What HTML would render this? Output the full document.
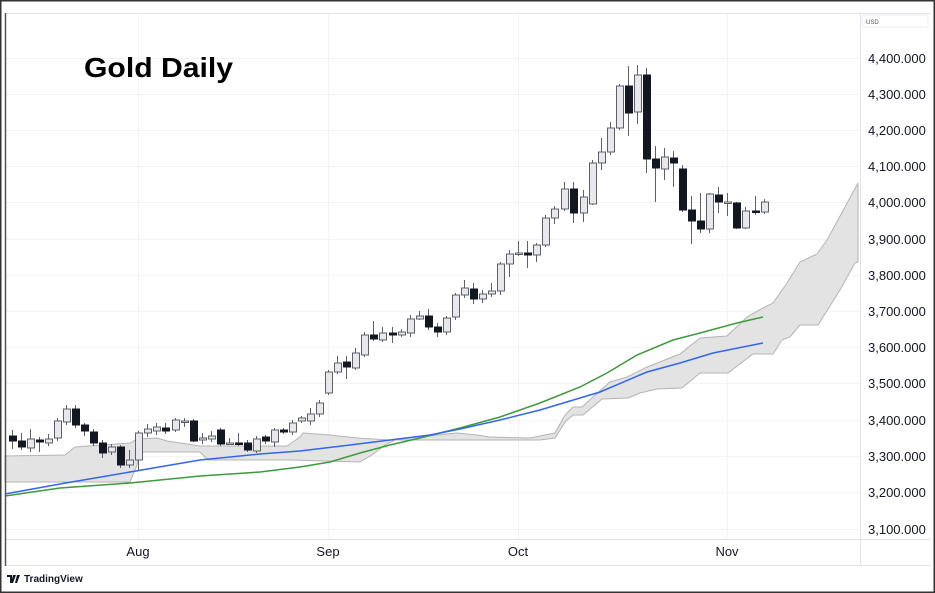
<!DOCTYPE html>
<html><head><meta charset="utf-8"><style>
html,body{margin:0;padding:0;background:#fff;}
svg{display:block;font-family:"Liberation Sans",sans-serif;}
</style></head><body>
<svg id="s" width="935" height="593" viewBox="0 0 935 593" xmlns="http://www.w3.org/2000/svg">
<rect x="0" y="0" width="935" height="593" fill="#fff"/>
<g id="grid" stroke="#f2f3f6" stroke-width="1">
<line x1="6" y1="58.5" x2="860" y2="58.5"/><line x1="6" y1="94.5" x2="860" y2="94.5"/><line x1="6" y1="130.5" x2="860" y2="130.5"/><line x1="6" y1="166.5" x2="860" y2="166.5"/><line x1="6" y1="202.5" x2="860" y2="202.5"/><line x1="6" y1="239.5" x2="860" y2="239.5"/><line x1="6" y1="275.5" x2="860" y2="275.5"/><line x1="6" y1="311.5" x2="860" y2="311.5"/><line x1="6" y1="347.5" x2="860" y2="347.5"/><line x1="6" y1="383.5" x2="860" y2="383.5"/><line x1="6" y1="420.5" x2="860" y2="420.5"/><line x1="6" y1="456.5" x2="860" y2="456.5"/><line x1="6" y1="492.5" x2="860" y2="492.5"/><line x1="6" y1="529.5" x2="860" y2="529.5"/>
<line x1="138.5" y1="14" x2="138.5" y2="538"/><line x1="328.5" y1="14" x2="328.5" y2="538"/><line x1="518.5" y1="14" x2="518.5" y2="538"/><line x1="727.5" y1="14" x2="727.5" y2="538"/>
</g>
<!-- cloud -->
<polygon fill="#e3e3e3" stroke="#b4b4b4" stroke-width="1" points="5,456 65,455 75,447 130,443 137,439 157,438 167,441 200,446 287,446 300,437 303,433 330,435 357,438 390,440 437,435 457,433 477,435 490,437 530,438 555,433 565,415 573,407 582,407 593,397 610,382 627,377 647,367 680,354 700,338 727,336 747,317 763,308 773,303 787,283 800,262 817,254 827,240 858,183 858,262 855,263 840,290 818,325 800,325 790,337 782,340 773,354 753,354 728,373 700,373 682,388 657,389 640,393 628,398 602,399 583,415 573,415 565,422 555,438 540,440 395,440 385,445 372,455 360,462 290,460 208,460 200,452 140,452 137,465 130,482 5,482"/>
<polyline fill="none" stroke="#3d9a3d" stroke-width="1.5" points="5,496 60,488 130,483 200,476 260,472 300,467 330,462 360,453 390,445 420,438 460,428 500,417 540,403 580,387 607,373 637,355 673,340 700,333 737,323 763,317"/>
<polyline fill="none" stroke="#3366ee" stroke-width="1.5" points="5,494 60,484 130,472 200,460 260,454 300,451 350,445 390,440 430,435 460,429 500,420 540,410 600,392 647,372 680,363 713,353 763,343"/>
<g id="candles"></g>
<!-- frame lines -->
<line x1="860.5" y1="13" x2="860.5" y2="565" stroke="#e0e3eb"/>
<line x1="5" y1="13.5" x2="931" y2="13.5" stroke="#e0e3eb"/>
<line x1="5" y1="539.5" x2="931" y2="539.5" stroke="#e0e3eb"/>
<line x1="5" y1="565.5" x2="931" y2="565.5" stroke="#e0e3eb"/>
<line x1="5.5" y1="13" x2="5.5" y2="566" stroke="#555" stroke-width="1.5"/>
<rect x="0.75" y="0.75" width="933.5" height="591.5" fill="none" stroke="#333" stroke-width="1.5"/>
<rect x="862" y="15" width="66" height="12" rx="2" fill="#fff" stroke="#eceef2"/>
<text x="866" y="24" font-size="6" fill="#555">USD</text>
<text x="84" y="77" font-size="28" font-weight="bold" fill="#000" textLength="149" lengthAdjust="spacingAndGlyphs">Gold Daily</text>
<g font-size="13" fill="#131722">
<text x="868" y="63">4,400.000</text><text x="868" y="99">4,300.000</text><text x="868" y="135">4,200.000</text><text x="868" y="171">4,100.000</text><text x="868" y="207">4,000.000</text><text x="868" y="244">3,900.000</text><text x="868" y="280">3,800.000</text><text x="868" y="316">3,700.000</text><text x="868" y="352">3,600.000</text><text x="868" y="388">3,500.000</text><text x="868" y="425">3,400.000</text><text x="868" y="461">3,300.000</text><text x="868" y="497">3,200.000</text><text x="868" y="534">3,100.000</text>
</g>
<g font-size="13" fill="#131722" text-anchor="middle">
<text x="138" y="556">Aug</text><text x="328" y="556">Sep</text><text x="518" y="556">Oct</text><text x="727" y="556">Nov</text>
</g>
<path d="M7,575 h5 v8 h-2 v-6 h-3z M13,575 h3 l-3,8 h-2z M17,575 h3 l-3,8 h-2z" fill="#131722"/>
<text x="24" y="582" font-size="10" font-weight="bold" fill="#131722">TradingView</text>
</svg>
<script>
var c=[
[12,436,441,430,449,1],[21,441,447,433,450,1],[30,439,448,429,452,0],[39,440,442,437,452,1],[48,439,443,434,446,0],[57,421,438,418,441,0],[66,409,422,405,425,0],[75,409,425,405,428,1],[84,425,431,423,436,1],[93,432,443,429,446,1],[102,443,453,440,458,1],[111,447,452,444,455,0],[120,447,465,445,468,1],[129,460,465,450,468,0],[138,433,460,431,470,0],[147,429,433,424,437,0],[156,427,431,423,435,0],[165,428,431,423,434,1],[175,420,430,418,432,0],[184,421,421,418,427,0],[193,421,441,419,442,1],[202,438,440,433,444,0],[211,436,439,431,442,0],[220,430,444,428,446,1],[229,443,443,438,445,0],[238,443,443,433,446,1],[247,443,450,440,452,1],[256,439,451,436,453,0],[265,437,441,435,444,1],[274,430,442,428,447,0],[283,430,432,428,434,1],[292,423,432,420,435,0],[301,418,421,416,423,0],[310,414,421,408,425,0],[319,403,414,400,417,0],[328,372,393,370,395,0],[337,363,372,356,374,0],[346,362,367,356,379,1],[355,353,368,348,370,0],[364,335,355,332,357,0],[373,335,339,321,341,1],[382,333,340,327,342,0],[392,333,335,327,343,1],[401,332,335,329,337,0],[410,319,333,315,337,0],[419,316,319,311,320,0],[428,316,327,309,330,1],[437,327,332,323,337,1],[446,318,332,316,335,0],[455,295,317,293,320,0],[464,288,295,280,298,0],[473,289,299,283,304,1],[482,294,299,290,303,0],[491,291,294,283,297,0],[500,264,291,262,295,0],[509,254,264,250,277,0],[518,253,254,241,256,0],[527,253,255,241,268,1],[536,245,255,243,262,0],[545,218,245,215,247,0],[554,209,218,206,224,0],[564,189,209,182,211,0],[573,189,213,182,223,1],[583,197,213,190,222,0],[592,163,204,160,205,0],[601,152,163,138,170,0],[610,128,152,122,155,0],[619,86,128,84,130,0],[628,86,113,66,136,1],[637,75,112,65,124,0],[646,75,159,68,173,1],[655,159,168,146,202,1],[664,157,169,148,180,0],[673,158,163,151,187,1],[682,169,210,165,212,1],[691,210,221,196,244,1],[700,221,229,193,233,1],[709,194,229,193,233,0],[718,195,202,187,213,1],[727,202,202,193,216,0],[736,203,228,202,229,1],[745,211,228,207,229,0],[755,211,211,196,215,1],[764,202,212,199,214,0]];
var g=document.getElementById('candles'),h='';
c.forEach(function(d){var x=d[0],t=d[1],b=d[2],dark=d[5];var col=dark?'#131722':'#e8e8ec';var st=dark?'#131722':'#5d606b';
h+='<line x1="'+(x+0.5)+'" y1="'+d[3]+'" x2="'+(x+0.5)+'" y2="'+d[4]+'" stroke="#5d606b" stroke-width="1"/>';
var hh=Math.max(b-t,1.5);h+='<rect x="'+(x-3)+'.5" y="'+t+'" width="7" height="'+hh+'" fill="'+col+'" stroke="'+st+'" stroke-width="1"/>';});
g.innerHTML=h;
</script>
</body></html>
